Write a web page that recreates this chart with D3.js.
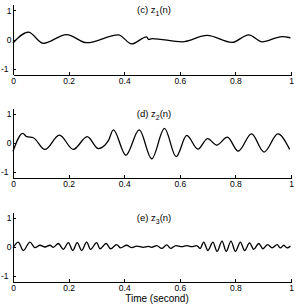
<!DOCTYPE html>
<html>
<head>
<meta charset="utf-8">
<script src="https://cdn.jsdelivr.net/npm/d3@7"></script>
<style>
  body { margin: 0; background: #fff; }
  svg text { font-family: "Liberation Sans", Arial, Helvetica, sans-serif; fill: #000; }
  .axis path, .axis line { stroke: #000; stroke-width: 1; shape-rendering: crispEdges; }
  .axis text { font-size: 8.5px; }
</style>
</head>
<body>
<div id="chart"></div>
<script>
'use strict';

/*** Data: [time (s), value] */
const z1 = [
  [0.000, -0.12], [0.055, 0.25], [0.109, -0.13], [0.193, 0.17], [0.265, -0.11],
  [0.379, 0.16], [0.427, -0.15], [0.481, 0.09], [0.488, 0.00], [0.500, 0.03],
  [0.608, -0.08], [0.698, 0.14], [0.788, -0.10], [0.848, 0.16], [0.896, -0.08],
  [0.968, 0.10], [0.998, 0.06]
];

const z2 = [
  [0.000, -0.29], [0.035, 0.33], [0.049, 0.22], [0.073, 0.18], [0.115, -0.22],
  [0.167, 0.27], [0.217, -0.22], [0.267, 0.22], [0.307, -0.19], [0.343, 0.08],
  [0.361, 0.45], [0.406, -0.42], [0.454, 0.45], [0.499, -0.54], [0.545, 0.50],
  [0.587, -0.47], [0.625, 0.26], [0.665, -0.21], [0.700, 0.15], [0.733, -0.07],
  [0.771, 0.20], [0.810, -0.28], [0.858, 0.31], [0.903, -0.31], [0.953, 0.31],
  [0.995, -0.22]
];

const z3 = [
  [0.000, -0.03], [0.019, 0.17], [0.037, -0.12], [0.061, 0.17], [0.079, -0.02],
  [0.097, 0.06], [0.115, 0.00], [0.133, 0.06], [0.145, -0.01], [0.163, 0.12],
  [0.181, -0.08], [0.199, 0.15], [0.215, -0.12], [0.231, 0.15], [0.247, -0.12],
  [0.265, 0.17], [0.279, -0.08], [0.301, 0.15], [0.313, -0.06], [0.335, 0.12],
  [0.351, -0.06], [0.373, 0.08], [0.387, -0.03], [0.409, 0.06], [0.427, -0.02],
  [0.445, 0.03], [0.469, -0.01], [0.487, 0.02], [0.499, -0.01], [0.517, 0.05],
  [0.535, -0.05], [0.553, 0.07], [0.567, -0.05], [0.586, 0.05], [0.607, 0.01],
  [0.625, 0.05], [0.643, 0.01], [0.661, 0.05], [0.673, -0.05], [0.686, 0.17],
  [0.701, -0.12], [0.719, 0.17], [0.734, -0.15], [0.752, 0.20], [0.767, -0.15],
  [0.784, 0.20], [0.800, -0.15], [0.818, 0.17], [0.833, -0.12], [0.851, 0.14],
  [0.866, -0.08], [0.884, 0.12], [0.899, -0.06], [0.916, 0.08], [0.932, -0.03],
  [0.950, 0.08], [0.962, -0.03], [0.974, 0.06], [0.986, -0.03], [0.998, 0.03]
];

const panels = [
  { label: "(c) z", sub: "1", data: z1 },
  { label: "(d) z", sub: "2", data: z2 },
  { label: "(e) z", sub: "3", data: z3 }
];

const xTicks = [0, 0.2, 0.4, 0.6, 0.8, 1];
const yTicks = [-1, 0, 1];
const xDomain = [0, 1];
const yDomain = [-1.2, 1.2];

/*** Layout */
const w = 297;
const h = 305;
const left = 13;
const right = 291;
const panelTops = [4.5, 108, 212];
const panelH = 70;

const svg = d3.select("#chart")
  .append("svg")
  .attr("width", w)
  .attr("height", h);

const xScale = d3.scaleLinear().domain(xDomain).range([left, right]);

panels.forEach((p, i) => {
  const top = panelTops[i];
  const yScale = d3.scaleLinear().domain(yDomain).range([top + panelH, top]);

  // curve
  const line = d3.line()
    .x(d => xScale(d[0]))
    .y(d => yScale(d[1]))
    .curve(d3.curveMonotoneX);

  svg.append("path")
    .datum(p.data)
    .attr("d", line)
    .attr("fill", "none")
    .attr("stroke", "#000")
    .attr("stroke-width", 1.3)
    .attr("stroke-linejoin", "round");

  // x axis (ticks inward)
  svg.append("g")
    .attr("class", "axis")
    .attr("transform", "translate(0," + (top + panelH) + ")")
    .call(d3.axisBottom(xScale)
      .tickValues(xTicks)
      .tickSizeInner(-3)
      .tickSizeOuter(0)
      .tickPadding(3)
      .tickFormat(d3.format("~g")));

  // y axis (ticks inward)
  const gy = svg.append("g")
    .attr("class", "axis")
    .attr("transform", "translate(" + left + ",0)")
    .call(d3.axisLeft(yScale)
      .tickValues(yTicks)
      .tickSizeInner(-3)
      .tickSizeOuter(0)
      .tickPadding(1.5)
      .tickFormat(d => d < 0 ? "-" + Math.abs(d) : d));

  gy.selectAll(".tick text")
    .filter(d => d < 0)
    .attr("dx", -3);

  // panel title
  const t = svg.append("text")
    .attr("x", 154)
    .attr("y", top + 8.5)
    .attr("text-anchor", "middle")
    .style("font-size", "9.5px");
  t.append("tspan").text(p.label);
  t.append("tspan").text(p.sub)
    .attr("dy", 3)
    .style("font-size", "7px");
  t.append("tspan").text("(n)")
    .attr("dy", -3);
});

/** x label */
svg.append("text")
  .attr("x", 157)
  .attr("y", 302)
  .attr("text-anchor", "middle")
  .style("font-size", "10px")
  .text("Time (second)");
</script>
</body>
</html>
